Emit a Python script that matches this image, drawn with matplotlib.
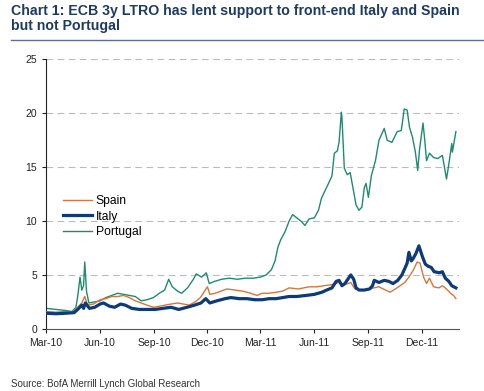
import matplotlib
matplotlib.use('Agg')
import matplotlib.pyplot as plt
import matplotlib.dates as mdates
import pandas as pd

# values (2y yields, %)
spain_dates = ['2010-03-01', '2010-03-18', '2010-04-04', '2010-04-18', '2010-04-24', '2010-05-01',
               '2010-05-06', '2010-05-11', '2010-05-21', '2010-06-01', '2010-06-11', '2010-06-21',
               '2010-07-01', '2010-07-11', '2010-07-21', '2010-07-31', '2010-08-10', '2010-08-20',
               '2010-08-31', '2010-09-10', '2010-09-20', '2010-09-30', '2010-10-11', '2010-10-21',
               '2010-10-31', '2010-11-10', '2010-11-19', '2010-11-26', '2010-12-01', '2010-12-05',
               '2010-12-14', '2010-12-24', '2011-01-03', '2011-01-17', '2011-01-30', '2011-02-13',
               '2011-02-23', '2011-03-04', '2011-03-16', '2011-03-28', '2011-04-08', '2011-04-19',
               '2011-05-05', '2011-05-23', '2011-06-05', '2011-06-17', '2011-07-01', '2011-07-13',
               '2011-07-23', '2011-08-02', '2011-08-09', '2011-08-19', '2011-08-30', '2011-09-10',
               '2011-09-19', '2011-09-30', '2011-10-08', '2011-10-17', '2011-10-25', '2011-11-02',
               '2011-11-09', '2011-11-16', '2011-11-23', '2011-11-28', '2011-12-04', '2011-12-09',
               '2011-12-14', '2011-12-21', '2011-12-30', '2012-01-05', '2012-01-12', '2012-01-19',
               '2012-01-24', '2012-01-28']
spain = [1.6, 1.55, 1.6, 1.6, 2.0, 2.4, 3.0, 2.2, 2.3, 2.7, 2.8, 3.0,
         3.0, 3.1, 2.9, 2.6, 2.4, 2.2, 2.0, 2.1, 2.2, 2.3, 2.4, 2.3,
         2.2, 2.5, 2.9, 3.5, 3.9, 3.2, 3.3, 3.5, 3.7, 3.6, 3.5, 3.3,
         3.1, 3.3, 3.3, 3.4, 3.5, 3.8, 3.7, 3.9, 3.9, 4.0, 4.1, 4.3,
         4.1, 4.3, 3.7, 3.6, 3.6, 3.8, 3.9, 3.6, 3.4, 3.7, 4.0, 4.3,
         4.8, 5.4, 6.2, 6.1, 4.8, 4.2, 4.7, 3.9, 3.8, 4.0, 3.7, 3.3,
         3.1, 2.8]

italy_dates = ['2010-03-01', '2010-03-18', '2010-04-04', '2010-04-18', '2010-04-24', '2010-05-01',
               '2010-05-04', '2010-05-07', '2010-05-14', '2010-05-23', '2010-06-01', '2010-06-07',
               '2010-06-17', '2010-06-26', '2010-07-06', '2010-07-14', '2010-07-25', '2010-08-07',
               '2010-08-20', '2010-09-03', '2010-09-16', '2010-09-30', '2010-10-13', '2010-10-27',
               '2010-11-09', '2010-11-20', '2010-11-28', '2010-12-05', '2010-12-17', '2010-12-31',
               '2011-01-10', '2011-01-24', '2011-02-06', '2011-02-20', '2011-03-04', '2011-03-16',
               '2011-03-28', '2011-04-08', '2011-04-19', '2011-05-02', '2011-05-18', '2011-06-01',
               '2011-06-14', '2011-06-22', '2011-07-01', '2011-07-08', '2011-07-13', '2011-07-18',
               '2011-07-23', '2011-07-28', '2011-08-02', '2011-08-07', '2011-08-11', '2011-08-16',
               '2011-08-25', '2011-09-03', '2011-09-08', '2011-09-11', '2011-09-19', '2011-09-28',
               '2011-10-06', '2011-10-13', '2011-10-21', '2011-10-28', '2011-11-02', '2011-11-06',
               '2011-11-09', '2011-11-13', '2011-11-16', '2011-11-21', '2011-11-26', '2011-12-02',
               '2011-12-07', '2011-12-12', '2011-12-17', '2011-12-22', '2011-12-31', '2012-01-05',
               '2012-01-10', '2012-01-16', '2012-01-21', '2012-01-28']
italy = [1.45, 1.4, 1.45, 1.5, 1.8, 2.2, 1.9, 2.4, 1.9, 2.0, 2.3, 2.4,
         2.1, 2.0, 2.3, 2.2, 1.9, 1.8, 1.8, 1.8, 1.9, 2.0, 1.8, 2.0,
         2.2, 2.4, 2.8, 2.4, 2.6, 2.8, 2.9, 2.8, 2.8, 2.7, 2.7, 2.8,
         2.8, 2.9, 3.0, 3.0, 3.1, 3.2, 3.4, 3.6, 3.8, 4.4, 4.5, 4.0,
         4.2, 4.6, 5.0, 4.6, 3.8, 3.6, 3.6, 3.7, 4.0, 4.5, 4.3, 4.5,
         4.4, 4.2, 4.5, 5.0, 5.6, 6.1, 7.1, 6.3, 6.5, 7.0, 7.7, 6.7,
         6.0, 5.8, 5.7, 5.3, 5.2, 5.3, 4.7, 4.4, 4.0, 3.8]

portugal_dates = ['2010-03-01', '2010-03-18', '2010-04-04', '2010-04-14', '2010-04-21', '2010-04-24',
                  '2010-04-28', '2010-05-01', '2010-05-04', '2010-05-06', '2010-05-09', '2010-05-13',
                  '2010-05-23', '2010-06-01', '2010-06-11', '2010-06-21', '2010-07-01', '2010-07-11',
                  '2010-07-21', '2010-07-31', '2010-08-10', '2010-08-20', '2010-08-31', '2010-09-10',
                  '2010-09-19', '2010-09-26', '2010-10-02', '2010-10-11', '2010-10-18', '2010-10-28',
                  '2010-11-07', '2010-11-12', '2010-11-21', '2010-11-29', '2010-12-04', '2010-12-13',
                  '2010-12-25', '2011-01-07', '2011-01-21', '2011-02-03', '2011-02-17', '2011-03-01',
                  '2011-03-11', '2011-03-20', '2011-03-26', '2011-03-31', '2011-04-05', '2011-04-12',
                  '2011-04-19', '2011-04-25', '2011-05-02', '2011-05-09', '2011-05-16', '2011-05-23',
                  '2011-06-01', '2011-06-08', '2011-06-13', '2011-06-19', '2011-06-26', '2011-07-01',
                  '2011-07-05', '2011-07-10', '2011-07-13', '2011-07-17', '2011-07-18', '2011-07-22',
                  '2011-07-27', '2011-08-01', '2011-08-06', '2011-08-11', '2011-08-16', '2011-08-21',
                  '2011-08-25', '2011-08-28', '2011-09-01', '2011-09-06', '2011-09-13', '2011-09-19',
                  '2011-09-28', '2011-10-03', '2011-10-11', '2011-10-20', '2011-10-27', '2011-11-01',
                  '2011-11-06', '2011-11-10', '2011-11-15', '2011-11-20', '2011-11-24', '2011-11-27',
                  '2011-12-03', '2011-12-06', '2011-12-09', '2011-12-14', '2011-12-21', '2011-12-28',
                  '2012-01-05', '2012-01-12', '2012-01-16', '2012-01-21', '2012-01-22', '2012-01-28']
portugal = [1.9, 1.8, 1.7, 1.6, 2.0, 3.0, 4.8, 3.6, 4.0, 6.2, 3.5, 2.4,
            2.5, 2.6, 2.9, 3.1, 3.3, 3.2, 3.1, 3.0, 2.6, 2.7, 2.9, 3.3,
            3.6, 4.6, 3.9, 3.5, 3.3, 3.8, 4.6, 5.1, 4.8, 5.2, 4.2, 4.4,
            4.6, 4.7, 4.6, 4.7, 4.7, 4.8, 5.0, 5.5, 6.3, 7.6, 8.3, 9.0,
            10.0, 10.6, 10.3, 10.0, 9.6, 10.2, 10.3, 11.0, 12.1, 12.8, 13.6, 14.2,
            16.3, 16.5, 17.3, 20.1, 19.6, 14.9, 14.3, 14.5, 13.0, 11.5, 11.0, 11.3,
            13.1, 13.5, 12.2, 14.2, 15.6, 17.5, 18.6, 17.5, 17.3, 18.3, 18.4, 20.4,
            20.3, 18.7, 17.8, 16.4, 14.7, 16.6, 19.1, 17.5, 15.6, 16.3, 15.9, 15.8,
            16.1, 13.9, 15.3, 17.2, 16.4, 18.3]

tick_dates = ['2010-03-01', '2010-06-01', '2010-09-01', '2010-12-01',
              '2011-03-01', '2011-06-01', '2011-09-01', '2011-12-01']
y_ticks = [0, 5, 10, 15, 20, 25]

plt.rcParams['font.family'] = 'Liberation Sans'

fig = plt.figure(figsize=(4.84, 3.91), dpi=100)
ax = fig.add_axes([0.095, 0.159, 0.853, 0.689])

ax.plot(pd.to_datetime(spain_dates), spain, color='#D4763E', lw=1.0, label='Spain', zorder=3)
ax.plot(pd.to_datetime(italy_dates), italy, color='#0E3B78', lw=2.3, label='Italy', zorder=4)
ax.plot(pd.to_datetime(portugal_dates), portugal, color='#1F8A72', lw=1.0, label='Portugal', zorder=2)

ax.set_xlim(pd.Timestamp('2010-03-01'), pd.Timestamp('2012-02-02'))
ax.set_ylim(0, 25)
ax.set_yticks(y_ticks)
ax.set_xticks(pd.to_datetime(tick_dates))
ax.xaxis.set_major_formatter(mdates.DateFormatter('%b-%y'))

for y in y_ticks[1:]:
    ax.axhline(y, color='#BBBBBB', lw=0.8, ls=(0, (6, 4)), zorder=1)

ax.spines['top'].set_visible(False)
ax.spines['right'].set_visible(False)
ax.spines['left'].set_color('#222222')
ax.spines['bottom'].set_color('#555555')
ax.tick_params(axis='both', labelsize=7.5, colors='#222222', length=3, width=0.8)

ax.legend(loc='upper left', bbox_to_anchor=(0.03, 0.515), frameon=False, fontsize=8.7,
          handlelength=2.4, handletextpad=0.3, labelspacing=0.3, borderaxespad=0)

# title block
fig.text(0.023, 0.99, 'Chart 1: ECB 3y LTRO has lent support to front-end Italy and Spain\nbut not Portugal',
         fontsize=10.2, fontweight='bold', color='#1F3B60', va='top', ha='left', linespacing=1.12)
fig.add_artist(plt.Line2D([0.023, 1.0], [0.897, 0.897], color='#5A7090', lw=1.0))

fig.text(0.023, 0.006, 'Source: BofA Merrill Lynch Global Research', fontsize=7, color='#333333',
         ha='left', va='bottom')

plt.savefig('out.png', dpi=100)
